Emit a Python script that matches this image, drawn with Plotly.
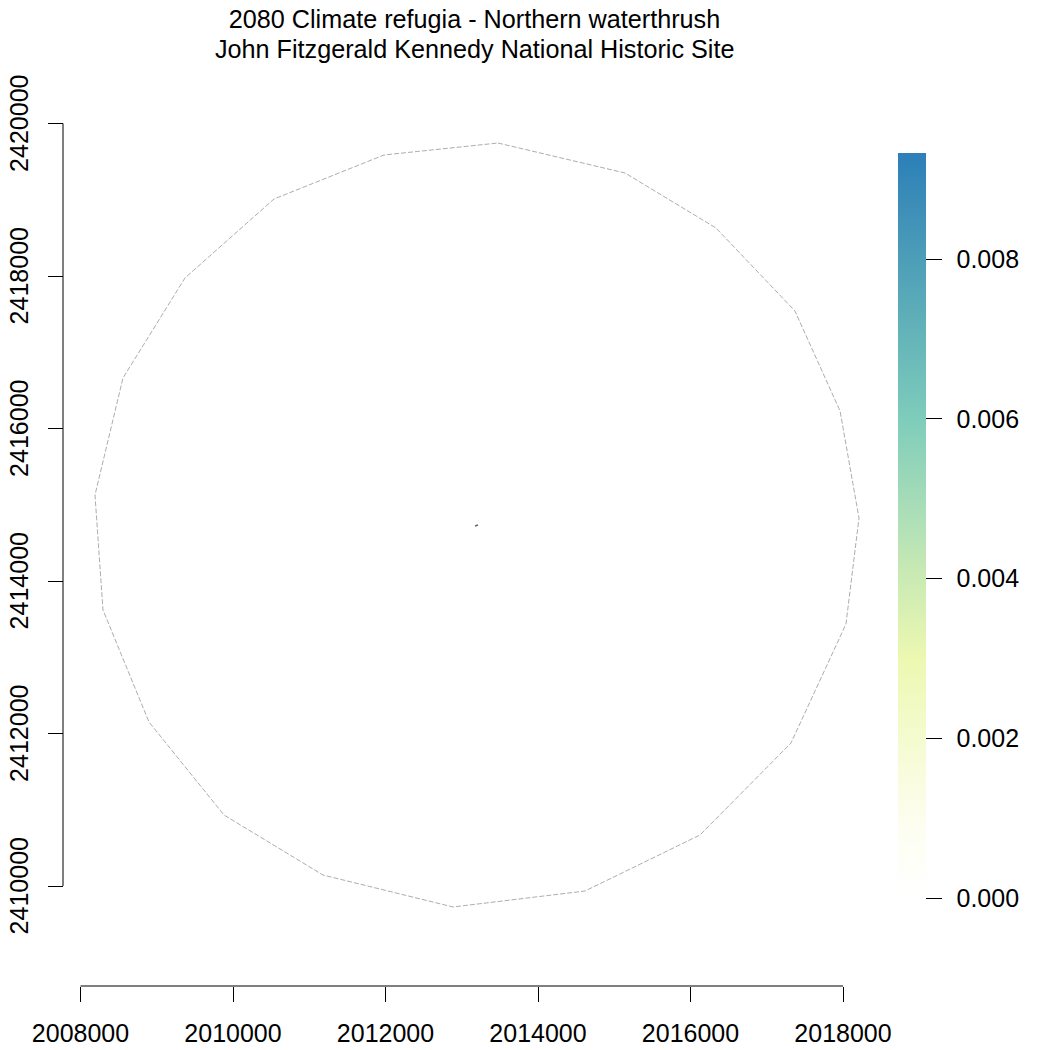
import plotly.graph_objects as go

title_lines = ["2080 Climate refugia - Northern waterthrush", "John Fitzgerald Kennedy National Historic Site"]

range_x = [2013475, 2015141, 2016334, 2017370, 2017961, 2018210, 2018039, 2017318, 2016125, 2014616,
           2012885, 2011180, 2009882, 2008898, 2008295, 2008190, 2008557, 2009370, 2010538, 2011980, 2013475]
range_y = [2419744, 2419351, 2418630, 2417541, 2416230, 2414826, 2413436, 2411875, 2410669, 2409934,
           2409725, 2410144, 2410931, 2412151, 2413620, 2415128, 2416662, 2417974, 2419010, 2419587, 2419744]

park_x = [2013174, 2013213]
park_y = [2414721, 2414734]

x_ticks = [2008000, 2010000, 2012000, 2014000, 2016000, 2018000]
y_ticks = [2410000, 2412000, 2414000, 2416000, 2418000, 2420000]
legend_ticks = [0, 0.002, 0.004, 0.006, 0.008]
legend_labels = ["0.000", "0.002", "0.004", "0.006", "0.008"]

refugia_x = [2013187]
refugia_y = [2414728]
refugia_z = [[0]]
value_max = 0.00933

palette = [
    [0.0, "#FFFFFF"], [0.10, "#FDFEF0"], [0.21, "#F5FBD0"], [0.32, "#EDF8B1"],
    [0.44, "#C7E9B4"], [0.64, "#7FCDBB"], [0.82, "#55A6B8"], [1.0, "#2C7FB8"],
]

W = H = 1050
FONT = "Liberation Sans, Arial, sans-serif"
PX_X = (843 - 80.5) / (x_ticks[-1] - x_ticks[0])
PX_Y = (886 - 123.5) / (y_ticks[-1] - y_ticks[0])
L, R, T, B = 63, 875, 105, 960   # plotting window in pixels
PAD = '<span style="font-size:36px">\u00a0</span>'
PAD_Y = '<span style="font-size:25px">\u00a0</span>'

fig = go.Figure()
fig.add_trace(go.Heatmap(
    x=refugia_x, y=refugia_y, z=refugia_z, dx=30, dy=30,
    zmin=0, zmax=value_max, colorscale=palette, hoverinfo="skip",
    colorbar=dict(
        thickness=28, thicknessmode="pixels",
        len=(898 - 153) / H, lenmode="fraction",
        x=898 / W, xanchor="left", xpad=0,
        y=1 - 898 / H, yanchor="bottom", ypad=0,
        outlinewidth=0, tickmode="array", tickvals=legend_ticks,
        ticktext=[PAD + t for t in legend_labels],
        ticks="outside", ticklen=16, tickwidth=1, tickcolor="black",
        tickfont=dict(size=25, color="black", family=FONT),
    ),
))
fig.add_trace(go.Scatter(x=range_x, y=range_y, mode="lines", hoverinfo="skip",
                         line=dict(color="#ADADAD", width=1, dash="5px,2px"), showlegend=False))
fig.add_trace(go.Scatter(x=park_x, y=park_y, mode="lines", hoverinfo="skip",
                         line=dict(color="#666666", width=1.5), showlegend=False))

axis_common = dict(
    showgrid=False, zeroline=False, showline=False,
    ticks="outside", ticklen=15, tickwidth=1, tickcolor="black",
    tickfont=dict(size=25, color="black", family=FONT), tickformat="d", tickmode="array",
)
fig.update_layout(
    width=W, height=H, margin=dict(l=0, r=0, t=0, b=0, autoexpand=False),
    paper_bgcolor="white", plot_bgcolor="white", showlegend=False,
    title=dict(text=title_lines[0], x=474.5 / W, xanchor="center", xref="paper",
               y=1 - 19 / H, yanchor="middle", font=dict(size=25.2, color="black", family=FONT)),
    annotations=[dict(text=title_lines[1], x=474.5 / W, y=1 - 49 / H, xref="paper", yref="paper",
                      xanchor="center", yanchor="middle", showarrow=False,
                      font=dict(size=25.2, color="black", family=FONT))],
    shapes=[
        dict(type="line", xref="x", yref="paper", x0=x_ticks[0], x1=x_ticks[-1],
             y0=1 - 986 / H, y1=1 - 986 / H, line=dict(color="black", width=1)),
        dict(type="line", xref="paper", yref="y", y0=y_ticks[0], y1=y_ticks[-1],
             x0=63 / W, x1=63 / W, line=dict(color="black", width=1)),
    ],
    xaxis=dict(axis_common, domain=[L / W, R / W],
               range=[x_ticks[0] + (L - 80.5) / PX_X, x_ticks[0] + (R - 80.5) / PX_X],
               anchor="free", position=1 - 986 / H, side="bottom",
               tickvals=x_ticks, ticktext=[str(v) for v in x_ticks], ticklabelstandoff=10),
    yaxis=dict(axis_common, domain=[1 - B / H, 1 - T / H],
               range=[y_ticks[0] + (886 - B) / PX_Y, y_ticks[0] + (886 - T) / PX_Y],
               anchor="free", position=L / W, side="left",
               tickvals=y_ticks, ticktext=[str(v) + PAD_Y for v in y_ticks], tickangle=-90, ticklabelstandoff=10),
)
fig.write_html("out.html", config={"displayModeBar": False},
               post_script="document.body.style.margin = '0';")
